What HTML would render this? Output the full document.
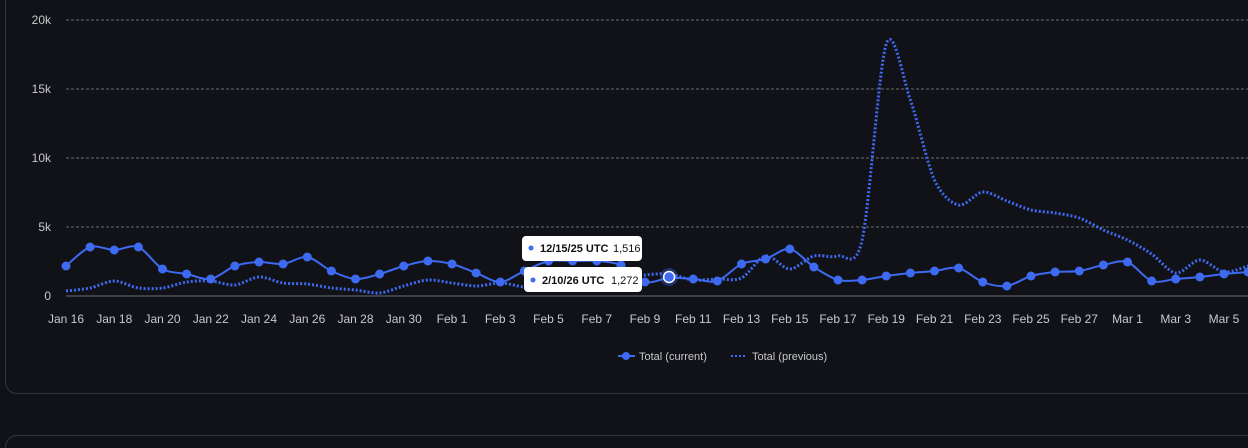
<!DOCTYPE html>
<html><head><meta charset="utf-8"><style>
html,body{margin:0;padding:0;background:#111217;width:1248px;height:448px;overflow:hidden;font-family:"Liberation Sans",sans-serif;}
.card{position:absolute;left:5px;top:-20px;width:1300px;height:414px;border:1px solid #34363c;border-radius:12px;box-sizing:border-box;}
.card2{position:absolute;left:5px;top:435px;width:1300px;height:30px;border:1px solid #34363c;border-bottom:none;border-radius:12px 12px 0 0;box-sizing:border-box;}
.wrap{position:absolute;left:0;top:0;width:1248px;height:448px;overflow:hidden;}
svg{position:absolute;left:0;top:0;}
text{font-family:"Liberation Sans",sans-serif;}
</style></head><body>
<div class="wrap">
<div class="card"></div><div class="card2"></div>
<svg id="s" width="1248" height="448"></svg>
</div>
<script>
const cur=[266,247,250,247,269,274,279,266,262,264,257,271,279,274,266,261,264,273,282,271,261,261,261,265,282,278,279,281,264,259,249,267,280,280,276,273,271,268,282,286,276,272,271,265,262,281,279,277,274,272];
const prev=[291,288,281,288,288,282,281,285,277,283,284,288,290,293,286,280,283,286,283,287,288,285,282,279,275,274,280,279,278,256,269,256,256,240,44,100,180,205,192,201,210,213,218,230,240,254,273,260,272,266];
const X=i=>66+24.125*i;
function path(a,t){let p=a.map((y,i)=>[X(i),y]);let d=`M${p[0][0]},${p[0][1]}`;
for(let i=0;i<p.length-1;i++){const p0=p[i-1]||p[i],p1=p[i],p2=p[i+1],p3=p[i+2]||p2;
d+=` C${p1[0]+(p2[0]-p0[0])*t},${p1[1]+(p2[1]-p0[1])*t} ${p2[0]-(p3[0]-p1[0])*t},${p2[1]-(p3[1]-p1[1])*t} ${p2[0]},${p2[1]}`;}return d;}
let h='';
[[20,'20k'],[89,'15k'],[158,'10k'],[227,'5k']].forEach(([y,l])=>{h+=`<line x1="66" x2="1248" y1="${y}" y2="${y}" stroke="#6a6c72" stroke-dasharray="3,2" stroke-width="1"/><text x="51" y="${y+4}" fill="#c8c9cc" font-size="12" text-anchor="end">${l}</text>`;});
h+=`<line x1="66" x2="1248" y1="296" y2="296" stroke="#6b6d73"/><text x="51" y="300" fill="#c8c9cc" font-size="12" text-anchor="end">0</text>`;
const labs=['Jan 16','Jan 18','Jan 20','Jan 22','Jan 24','Jan 26','Jan 28','Jan 30','Feb 1','Feb 3','Feb 5','Feb 7','Feb 9','Feb 11','Feb 13','Feb 15','Feb 17','Feb 19','Feb 21','Feb 23','Feb 25','Feb 27','Mar 1','Mar 3','Mar 5'];
labs.forEach((l,k)=>{h+=`<text x="${X(2*k)}" y="323" fill="#c8c9cc" font-size="12" text-anchor="middle">${l}</text>`;});
h+=`<path d="${path(prev,0.15)}" fill="none" stroke="#3d6af0" stroke-width="3" stroke-dasharray="2,2"/>`;
h+=`<path d="${path(cur,0.15)}" fill="none" stroke="#3d6af0" stroke-width="2"/>`;
cur.forEach((y,i)=>{h+=`<circle cx="${X(i)}" cy="${y}" r="4.5" fill="#3d6af0"/>`;});
h+=`<circle cx="${X(25)}" cy="277" r="9" fill="#3d6af0" opacity="0.35"/><circle cx="${X(25)}" cy="277" r="5.5" fill="#3d6af0" stroke="#fff" stroke-width="1.5"/>`;
h+=`<rect x="522" y="236" width="120" height="25" rx="4" fill="#fff"/><circle cx="531" cy="248" r="2.5" fill="#3d6af0"/><text x="540" y="252" font-size="11" font-weight="bold" fill="#111">12/15/25 UTC</text><text x="613" y="252" font-size="11" fill="#111">1,516</text>`;
h+=`<rect x="524" y="267" width="118" height="25" rx="4" fill="#fff"/><circle cx="533" cy="280" r="2.5" fill="#3d6af0"/><text x="542" y="284" font-size="11" font-weight="bold" fill="#111">2/10/26 UTC</text><text x="611" y="284" font-size="11" fill="#111">1,272</text>`;
h+=`<line x1="618" x2="635" y1="356" y2="356" stroke="#3d6af0" stroke-width="2"/><circle cx="626" cy="356" r="4" fill="#3d6af0"/><text x="639" y="360" font-size="11" fill="#c8c9cc">Total (current)</text>`;
h+=`<line x1="731" x2="747" y1="356" y2="356" stroke="#3d6af0" stroke-width="2" stroke-dasharray="2,2"/><text x="752" y="360" font-size="11" fill="#c8c9cc">Total (previous)</text>`;
document.getElementById('s').innerHTML=h;
</script>
</body></html>
